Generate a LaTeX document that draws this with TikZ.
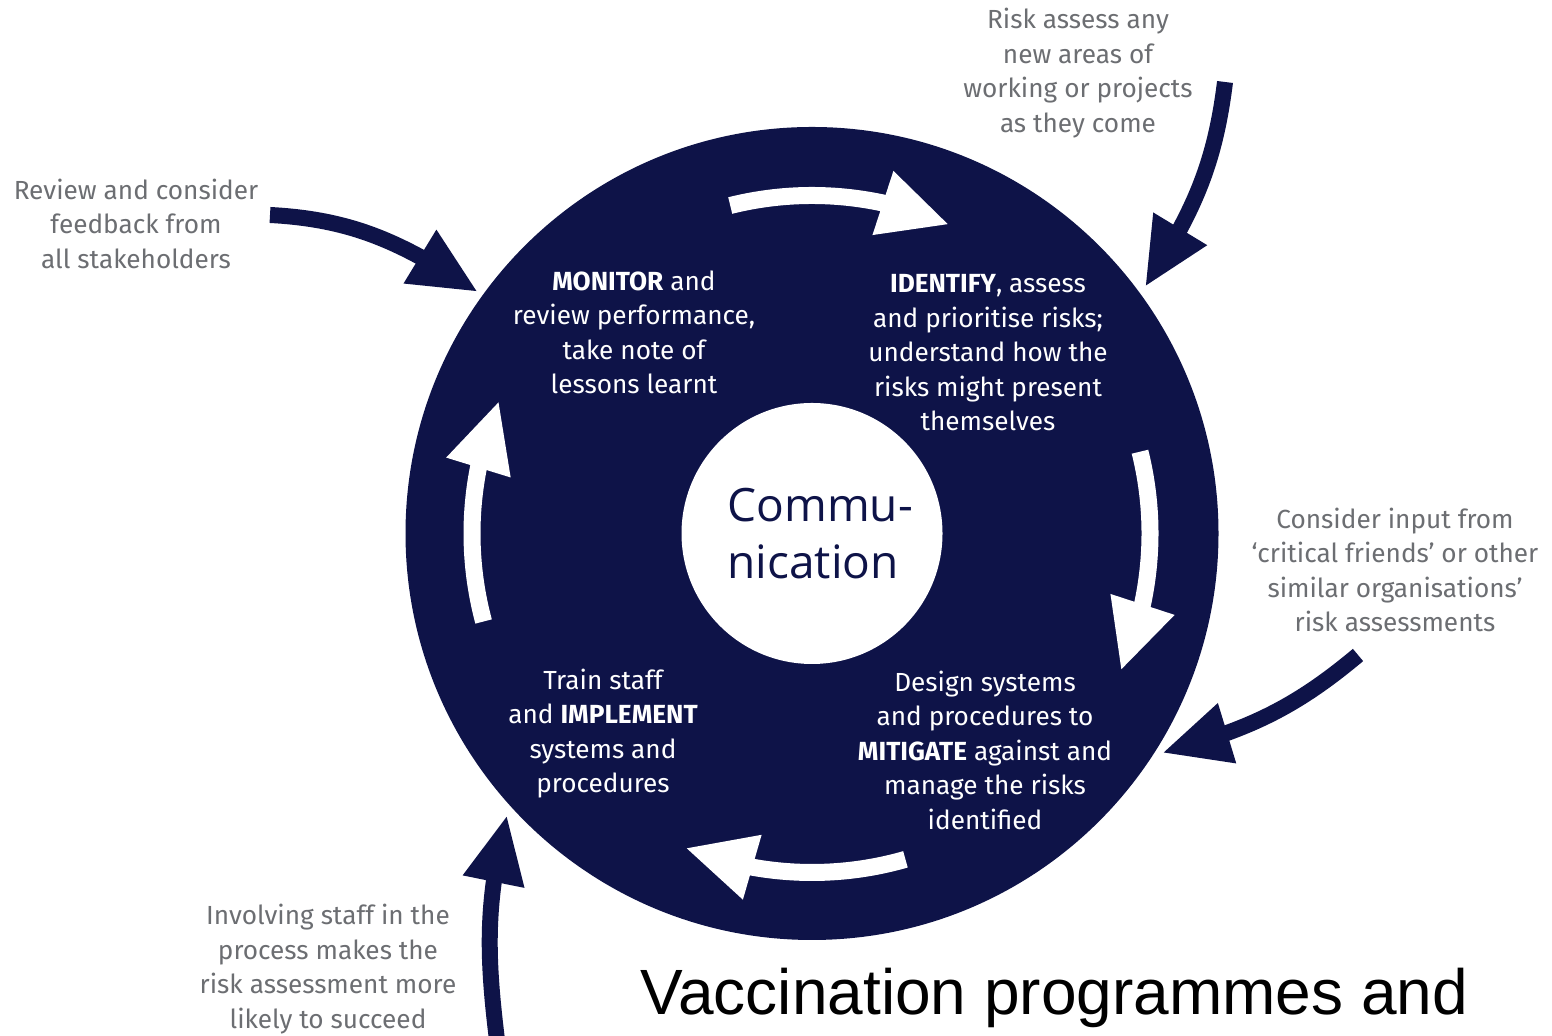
\documentclass[tikz,border=0pt]{standalone}
\usepackage{fontspec}
\setmainfont{Fira Sans}
\newfontfamily\commfont{Open Sans}
\newfontfamily\arialfont{Liberation Sans}
\usetikzlibrary{arrows.meta,bending}
\definecolor{navy}{RGB}{14,19,72}
\definecolor{labelgray}{RGB}{108,110,114}
\begin{document}
\begin{tikzpicture}[x=0.5pt,y=0.5pt,
  stagetext/.style={text=white, align=center, inner sep=0pt,
    font=\fontsize{13.1}{17.25}\selectfont},
  sidetext/.style={text=labelgray, align=center, inner sep=0pt,
    font=\fontsize{13.1}{17.25}\selectfont},
  cyclearrow/.style={draw=white, line width=8.5pt,
    -{Triangle[length=35pt,width=31pt]}},
  feedarrow/.style={draw=navy, line width=8pt,
    -{Triangle[length=34pt,width=29pt]}}]
\useasboundingbox (0,0) rectangle (1552,1036);
\fill[white] (0,0) rectangle (1552,1036);

% main disc and the white hub
\coordinate (c) at (812,502.5);
\fill[navy] (c) circle[radius=406.5];
\node[circle, fill=white, minimum size=130.5pt, inner sep=0pt] (hub) at (c) {};
\node[anchor=west, text=navy, align=left, inner sep=0pt,
  font=\commfont\fontsize{23}{28.5}\selectfont] (comm) at (727,502.5) {Commu-\\nication};

% the four stages
\node[stagetext] (monitor) at (634,703.5)
  {\textbf{MONITOR} and\\review performance,\\take note of\\lessons learnt};
\node[stagetext] (identify) at (988,683)
  {\textbf{IDENTIFY}, assess\\and prioritise risks;\\understand how the\\risks might present\\themselves};
\node[stagetext] (mitigate) at (985,286)
  {Design systems\\and procedures to\\\textbf{MITIGATE} against and\\manage the risks\\identified};
\node[stagetext] (implement) at (603,302.5)
  {Train staff\\and \textbf{IMPLEMENT}\\systems and\\procedures};

% clockwise cycle arrows inside the disc
\draw[cyclearrow] ([shift={(104:338)}]c) arc[start angle=104, end angle=66, radius=338];
\draw[cyclearrow] ([shift={(14:338)}]c) arc[start angle=14, end angle=-24, radius=338];
\draw[cyclearrow] ([shift={(-74:339)}]c) arc[start angle=-74, end angle=-112, radius=339];
\draw[cyclearrow] ([shift={(195:340)}]c) arc[start angle=195, end angle=157, radius=340];

% outside inputs
\node[sidetext] (review) at (136,812.5)
  {Review and consider\\feedback from\\all stakeholders};
\node[sidetext] (riskassess) at (1078,963)
  {Risk assess any\\new areas of\\working or projects\\as they come};
\node[sidetext] (consider) at (1395,466)
  {Consider input from\\`critical friends' or other\\similar organisations'\\risk assessments};
\node[sidetext] (involving) at (328,67)
  {Involving staff in the\\process makes the\\risk assessment more\\likely to succeed};

\coordinate (tailA) at (270,821);
\coordinate (tipA) at (478,744);
\coordinate (tailB) at (1225,954);
\coordinate (tipB) at (1145,749);
\coordinate (tailC) at (1358,381);
\coordinate (tipC) at (1162,283);
\coordinate (tailD) at (497,-4);
\coordinate (tipD) at (507,221);
\draw[feedarrow] (tailA) to[out=-3,in=147] (tipA);
\draw[feedarrow] (tailB) to[out=-97,in=57] (tipB);
\draw[feedarrow] (tailC) to[out=-140,in=15] (tipC);
\draw[feedarrow] (tailD) to[out=97,in=-104] (tipD);

% caption line
\node[anchor=base west, inner sep=0pt, font=\arialfont\fontsize{32}{36}\selectfont]
  (title) at (640,21) {Vaccination programmes and};
\end{tikzpicture}
\end{document}
